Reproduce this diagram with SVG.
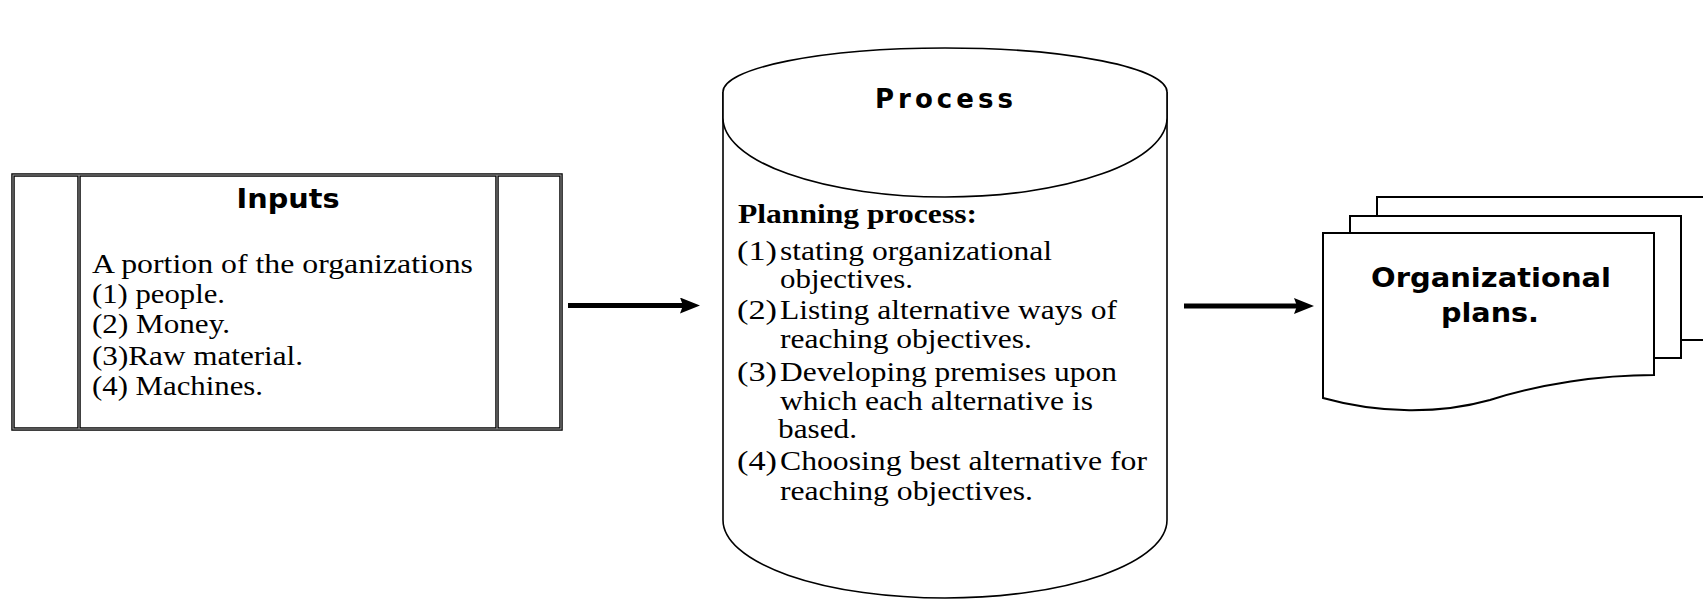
<svg xmlns="http://www.w3.org/2000/svg" width="1703" height="600" viewBox="0 0 1703 600">
<style>
.bg{fill:#fff}
.title{font-family:"DejaVu Sans",Verdana,sans-serif;font-weight:bold;font-size:26px;fill:#000}
.body{font-family:"Liberation Serif","Times New Roman",serif;font-size:27px;fill:#000}
.bodyb{font-family:"Liberation Serif","Times New Roman",serif;font-size:27px;font-weight:bold;fill:#000}
.boxo{fill:#fff;stroke:#000;stroke-width:3.5}
.boxi{fill:none;stroke:#9a9a9a;stroke-width:1.1}
.cyl{fill:#fff;stroke:#000;stroke-width:1.6}
.doc{fill:#fff;stroke:#000;stroke-width:2}
.conn{stroke:#000;stroke-width:5;fill:none}
</style>
<defs>
<marker id="ah" markerUnits="userSpaceOnUse" markerWidth="20" markerHeight="16" viewBox="0 0 20 16" refX="8" refY="8" orient="auto">
<path d="M0,0 L20,8 L0,16 L3,8 Z" fill="#000"/>
</marker>
</defs>
<rect class="bg" x="0" y="0" width="1703" height="600"/>

<g id="inputs">
<rect class="boxo" x="13" y="175" width="548" height="254"/>
<line class="boxo" x1="79" y1="175" x2="79" y2="429"/>
<line class="boxo" x1="497" y1="175" x2="497" y2="429"/>
<rect class="boxi" x="13" y="175" width="548" height="254"/>
<line class="boxi" x1="79" y1="175" x2="79" y2="429"/>
<line class="boxi" x1="497" y1="175" x2="497" y2="429"/>
<text class="title" x="288" y="208" text-anchor="middle" textLength="103" lengthAdjust="spacingAndGlyphs">Inputs</text>
<text class="body" x="92" y="273" textLength="381" lengthAdjust="spacingAndGlyphs">A portion of the organizations</text>
<text class="body" x="92" y="303" textLength="133" lengthAdjust="spacingAndGlyphs">(1) people.</text>
<text class="body" x="92" y="333" textLength="138" lengthAdjust="spacingAndGlyphs">(2) Money.</text>
<text class="body" x="92" y="365" textLength="211" lengthAdjust="spacingAndGlyphs">(3)Raw material.</text>
<text class="body" x="92" y="395" textLength="171" lengthAdjust="spacingAndGlyphs">(4) Machines.</text>
</g>

<g id="process">
<path class="cyl" d="M723,92 L723,520 A222,78 0 0 0 1167,520 L1167,92"/>
<path class="cyl" d="M723,118 L723,92 A222,44 0 0 1 1167,92 L1167,118 A222,79 0 0 1 723,118 Z"/>
<text class="title" x="944" y="108" text-anchor="middle" textLength="138" lengthAdjust="spacing">Process</text>
<text class="bodyb" x="738" y="223" textLength="239" lengthAdjust="spacingAndGlyphs">Planning process:</text>
<text class="body" x="737" y="260" textLength="40" lengthAdjust="spacingAndGlyphs">(1)</text>
<text class="body" x="780" y="260" textLength="272" lengthAdjust="spacingAndGlyphs">stating organizational</text>
<text class="body" x="780" y="288" textLength="133" lengthAdjust="spacingAndGlyphs">objectives.</text>
<text class="body" x="737" y="319" textLength="40" lengthAdjust="spacingAndGlyphs">(2)</text>
<text class="body" x="780" y="319" textLength="337" lengthAdjust="spacingAndGlyphs">Listing alternative ways of</text>
<text class="body" x="780" y="348" textLength="252" lengthAdjust="spacingAndGlyphs">reaching objectives.</text>
<text class="body" x="737" y="381" textLength="40" lengthAdjust="spacingAndGlyphs">(3)</text>
<text class="body" x="780" y="381" textLength="337" lengthAdjust="spacingAndGlyphs">Developing premises upon</text>
<text class="body" x="780" y="410" textLength="313" lengthAdjust="spacingAndGlyphs">which each alternative is</text>
<text class="body" x="778" y="438" textLength="79" lengthAdjust="spacingAndGlyphs">based.</text>
<text class="body" x="737" y="470" textLength="40" lengthAdjust="spacingAndGlyphs">(4)</text>
<text class="body" x="780" y="470" textLength="367" lengthAdjust="spacingAndGlyphs">Choosing best alternative for</text>
<text class="body" x="780" y="500" textLength="253" lengthAdjust="spacingAndGlyphs">reaching objectives.</text>
</g>

<g id="plans">
<rect class="doc" x="1377" y="197" width="340" height="143"/>
<rect class="doc" x="1350" y="216" width="331" height="142"/>
<path class="doc" d="M1323,233 L1654,233 L1654,375 C1600,375 1540,384 1490,400 C1440,414 1380,414 1323,398 Z"/>
<text class="title" x="1491" y="287" text-anchor="middle" textLength="240" lengthAdjust="spacingAndGlyphs">Organizational</text>
<text class="title" x="1490" y="322" text-anchor="middle" textLength="98" lengthAdjust="spacingAndGlyphs">plans.</text>
</g>

<g id="connectors">
<line class="conn" x1="568" y1="305.5" x2="688" y2="305.5" marker-end="url(#ah)"/>
<line class="conn" x1="1184" y1="306" x2="1302" y2="306" marker-end="url(#ah)"/>
</g>
</svg>
